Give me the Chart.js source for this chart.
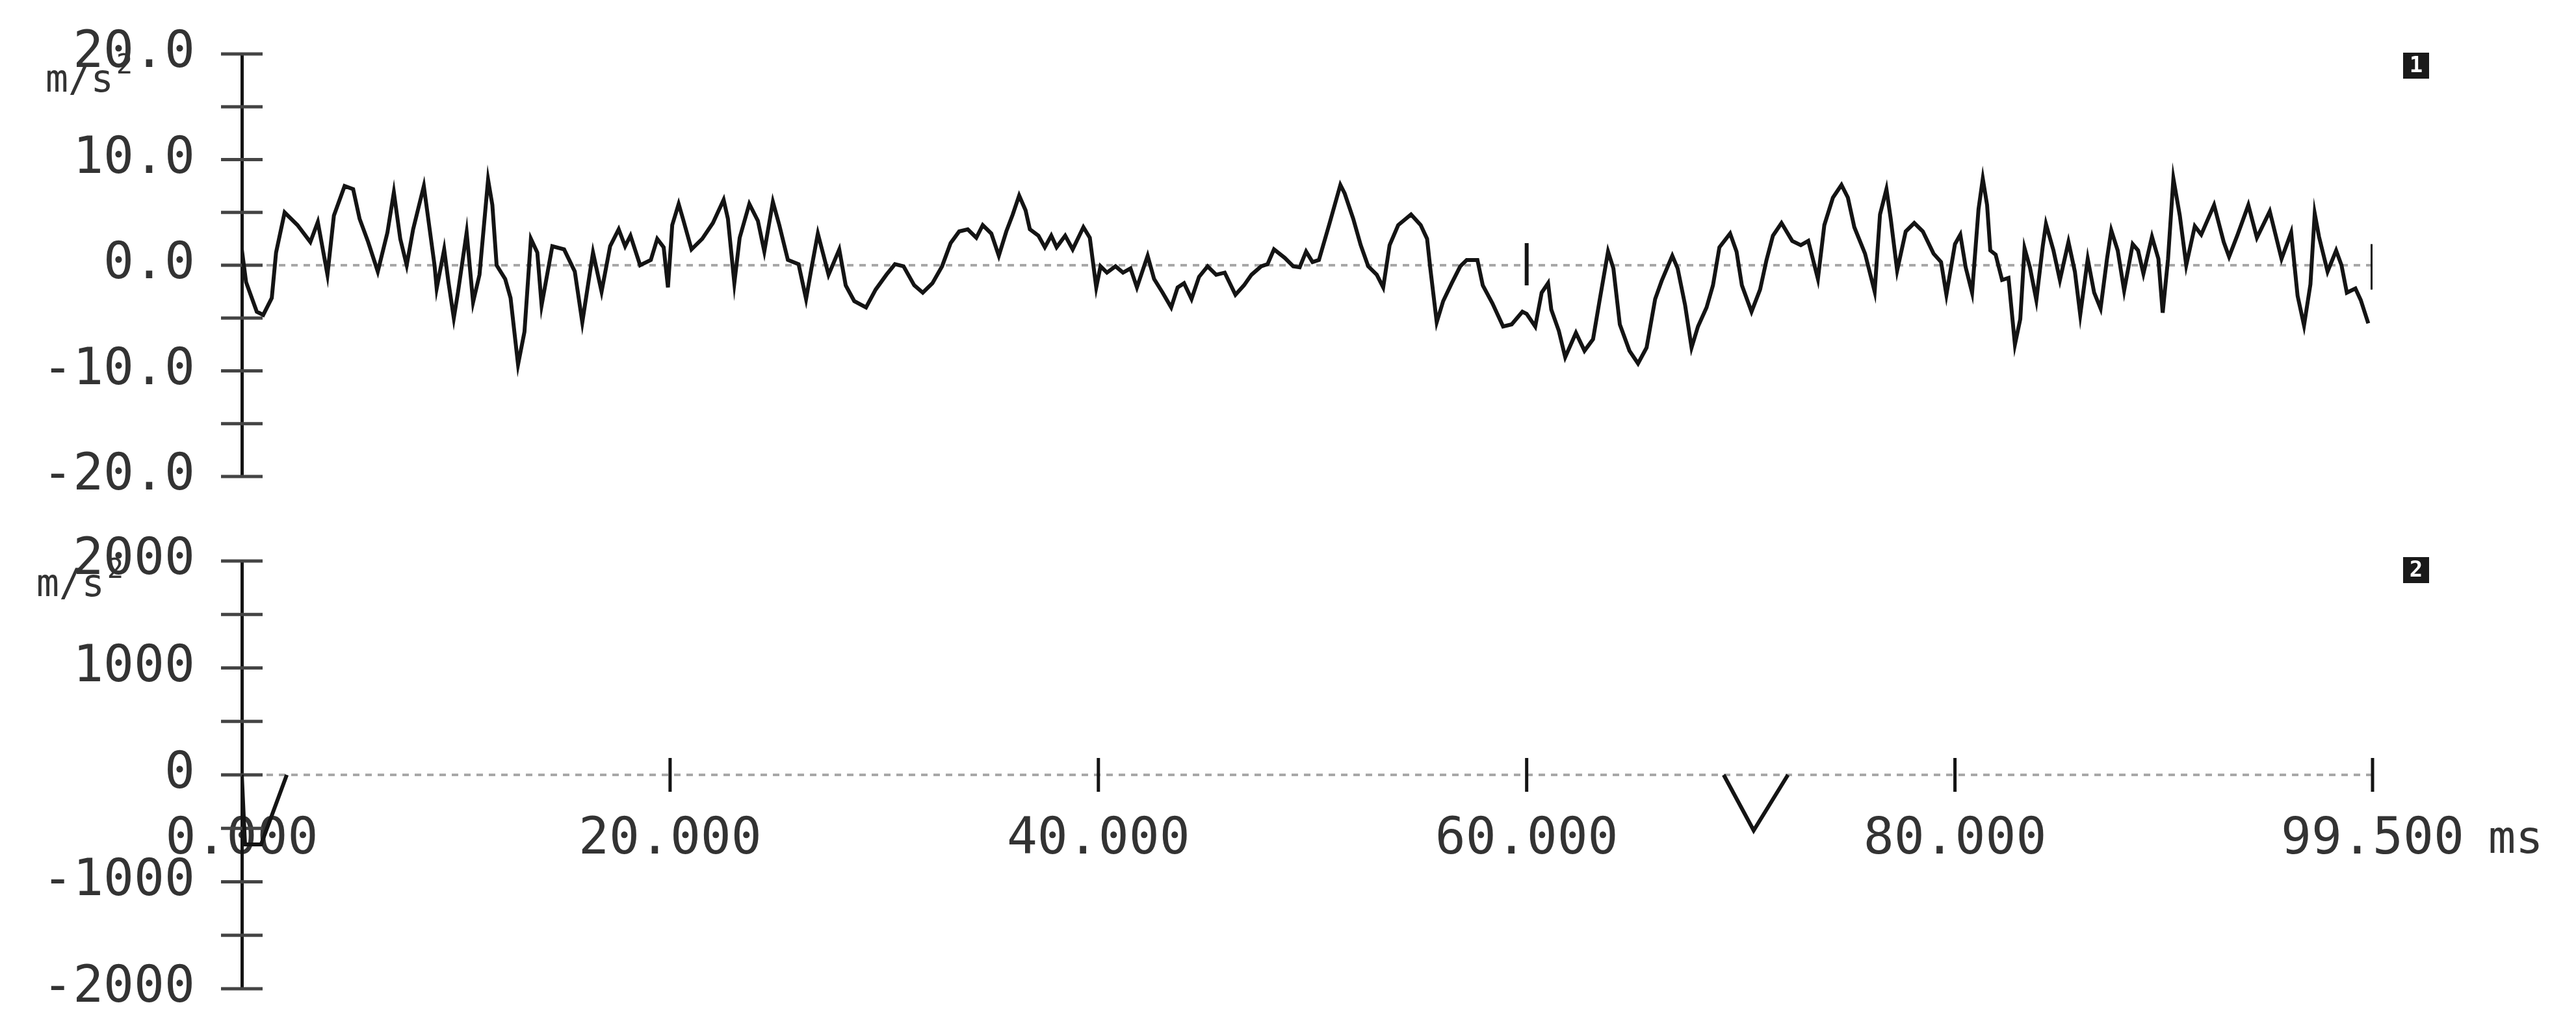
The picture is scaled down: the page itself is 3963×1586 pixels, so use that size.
<!DOCTYPE html>
<html lang="en">
<head>
<meta charset="UTF-8">
<title>Acceleration traces, channel 1 and 2</title>
<script src="https://cdn.jsdelivr.net/npm/chart.js"></script>
<style>
  body { margin: 0; background: #fff; }
  canvas { position: absolute; left: 0; }
</style>
</head>
<body>

<canvas id="ch1" style="top:0" width="3963" height="800"></canvas>
<canvas id="ch2" style="top:800px" width="3963" height="786"></canvas>

<script>
// channel 1 trace (ms, m/s^2)
const ch1Time = [0, 0.2, 0.7, 1.0, 1.4, 1.6, 2.0, 2.6, 3.2, 3.55, 4.0, 4.3, 4.8, 5.2, 5.5, 5.9, 6.35, 6.8, 7.1, 7.4, 7.7, 8.0, 8.5, 9.0, 9.1, 9.45, 9.65, 9.9, 10.1, 10.5, 10.8, 11.1, 11.5, 11.7, 11.9, 12.3, 12.55, 12.9, 13.2, 13.5, 13.8, 14.0, 14.5, 15.05, 15.55, 15.9, 16.4, 16.8, 17.2, 17.6, 17.9, 18.15, 18.6, 19.1,
  19.4, 19.7, 19.9, 20.1, 20.4, 20.6, 21.0, 21.5, 22.0, 22.5, 22.7, 23.0, 23.25, 23.7, 24.1, 24.4, 24.8, 25.1, 25.5, 26.0, 26.35, 26.6, 26.9, 27.4, 27.9, 28.2, 28.6, 29.15, 29.6, 30.1, 30.5, 30.9, 31.4, 31.8, 32.25, 32.7, 33.1, 33.5, 33.9, 34.3, 34.6, 35.0, 35.35, 35.7, 36.0, 36.3, 36.6, 36.8, 37.2, 37.5, 37.8, 38.05, 38.45, 38.8, 39.3, 39.6, 39.9,
  40.1, 40.4, 40.8, 41.15, 41.5, 41.8, 42.3, 42.6, 43.0, 43.4, 43.7, 44.0, 44.35, 44.7, 45.1, 45.5, 45.9, 46.4, 46.8, 47.15, 47.6, 47.9, 48.2, 48.7, 49.1,
  49.4, 49.7, 50.0, 50.3, 50.8, 51.3, 51.5, 51.9, 52.25, 52.6, 53.0, 53.3, 53.6, 54.0, 54.6, 55.05, 55.35, 55.5, 55.8, 56.1, 56.5, 56.9, 57.2, 57.7, 57.95, 58.4, 58.9, 59.3, 59.8, 60.0, 60.4, 60.7, 61.0, 61.15, 61.5, 61.8, 62.3, 62.7, 63.1, 63.4, 63.8, 64.05, 64.35, 64.8, 65.2, 65.6, 66.0, 66.3, 66.8, 67.05, 67.4, 67.7, 68.0, 68.4, 68.7, 69.0, 69.5, 69.8,
  70.05, 70.5, 70.9, 71.2, 71.5, 71.9, 72.4, 72.8, 73.15, 73.6, 73.9, 74.3, 74.7, 75.0, 75.3, 75.8, 76.25, 76.5, 76.8, 77.0, 77.3, 77.7, 78.1, 78.5, 79.0, 79.35, 79.6,
  80.0, 80.25, 80.5, 80.8, 81.1, 81.3, 81.5, 81.65, 81.9, 82.2, 82.5, 82.8, 83.05, 83.25, 83.5, 83.8, 84.1, 84.25, 84.6, 84.9, 85.3, 85.6, 85.85, 86.2, 86.5, 86.8, 87.1, 87.3, 87.6, 87.9, 88.3, 88.55, 88.8, 89.2, 89.5, 89.7, 89.95,
  90.2, 90.5, 90.8, 91.2, 91.5, 92.1, 92.55, 92.8, 93.2, 93.7, 94.1, 94.7, 95.25, 95.7, 96.0, 96.3, 96.6, 96.8, 97.0, 97.4, 97.8, 98.05, 98.3, 98.7, 98.95, 99.3];
const ch1Accel = [1.5, -1.6, -4.4, -4.7, -3.1, 1.2, 5.0, 3.8, 2.2, 4.1, -0.9, 4.7, 7.5, 7.2, 4.4, 2.2, -0.6, 3.1, 6.9, 2.5, 0, 3.4, 7.5, 0, -2.2, 1.5, -1.6, -5.0, -2.5, 3.1, -3.5, -0.9, 8.1, 5.7, 0, -1.3, -3.1, -9.4, -6.3, 2.5, 1.2, -3.8, 1.8, 1.5, -0.6, -5.4, 1.2, -2.5, 1.8, 3.4, 1.8, 2.8, 0, 0.5,
  2.5, 1.7, -2.1, 3.8, 5.8, 4.4, 1.5, 2.5, 4.0, 6.2, 4.4, -1.7, 2.6, 5.8, 4.2, 1.3, 6.0, 3.8, 0.5, 0.1, -3.2, -0.3, 3.0, -0.9, 1.5, -1.9, -3.4, -4.0, -2.3, -0.9, 0.1, -0.1, -1.9, -2.6, -1.7, -0.1, 2.1, 3.2, 3.4, 2.6, 3.8, 3.0, 0.9, 3.2, 4.8, 6.6, 5.2, 3.4, 2.8, 1.7, 2.8, 1.7, 2.8, 1.5, 3.6, 2.6, -2.1,
  -0.1, -0.7, -0.1, -0.7, -0.3, -2.1, 0.9, -1.3, -2.6, -4.0, -2.1, -1.7, -3.2, -1.1, -0.1, -0.9, -0.7, -2.8, -1.9, -0.9, -0.1, 0.1, 1.5, 0.7, -0.1,
  -0.2, 1.3, 0.3, 0.5, 4.0, 7.6, 6.8, 4.4, 1.9, -0.1, -0.9, -2.1, 1.9, 3.8, 4.8, 3.8, 2.5, -0.3, -5.4, -3.4, -1.7, -0.1, 0.5, 0.5, -1.9, -3.6, -5.8, -5.6, -4.4, -4.6, -5.8, -2.6, -1.7, -4.2, -6.2, -8.7, -6.4, -8.1, -7.0, -3.4, 1.3, -0.3, -5.6, -8.1, -9.3, -7.8, -3.2, -1.5, 0.9, -0.3, -3.8, -7.8, -5.8, -4.0, -1.9, 1.7, 3.0, 1.3,
  -1.9, -4.4, -2.3, 0.5, 2.8, 4.0, 2.3, 1.9, 2.3, -1.3, 3.8, 6.4, 7.6, 6.4, 3.6, 1.1, -2.5, 4.8, 7.2, 4.4, -0.5, 3.2, 4.0, 3.2, 1.1, 0.3, -2.8,
  2.0, 2.9, -0.2, -2.6, 5.3, 8.2, 5.7, 1.4, 1.0, -1.4, -1.2, -7.5, -5.1, 1.6, -0.2, -3.3, 1.8, 3.9, 1.4, -1.4, 2.2, -0.6, -4.7, 0.6, -2.6, -4.1, 0.6, 3.3, 1.4, -2.4, 2.0, 1.4, -0.8, 2.7, 0.6, -4.5, 0.6,
  8.2, 4.7, 0, 3.7, 2.9, 5.7, 2.2, 0.8, 2.9, 5.7, 2.6, 5.1, 0.6, 3.1, -2.9, -5.7, -1.8, 4.9, 2.7, -0.6, 1.4, 0, -2.6, -2.2, -3.3, -5.5];

// cursor marks on channel 1 (null splits the two bars)
const markTime = [60, 60, 80, 99.5, 99.5];
const markAccel = [2.1, -1.9, null, 2.0, -2.3];

// channel 2 trace
const ch2Time = [0, 0.15, 0.9, 2.1, 69.2, 70.6, 72.2, 99.5];
const ch2Accel = [0, -650, -650, 0, 0, -520, 0, 0];

// axes
const timeTicks = [0, 20, 40, 60, 80, 99.5];
const ch1Range = [-20, 20];
const ch2Range = [-2000, 2000];

const ink = '#141414';
const labelFont = { family: "'DejaVu Sans Mono', monospace", size: 78 };

function points(xs, ys) {
  return xs.map((x, i) => ({ x: x, y: ys[i] }));
}

// zero line, crossing tick marks, unit text and channel badge
const scopeDecor = {
  id: 'scopeDecor',
  beforeDatasetsDraw(chart, args, opts) {
    const { ctx, chartArea: a, scales: { x, y } } = chart;
    const y0 = y.getPixelForValue(0);
    ctx.save();
    ctx.strokeStyle = '#a8a8a8';
    ctx.lineWidth = 4;
    ctx.setLineDash([10, 9]);
    ctx.beginPath();
    ctx.moveTo(a.left, y0);
    ctx.lineTo(x.getPixelForValue(x.max), y0);
    ctx.stroke();
    ctx.setLineDash([]);

    ctx.strokeStyle = '#444';
    ctx.lineWidth = 5;
    y.ticks.forEach(t => {
      const py = y.getPixelForValue(t.value);
      ctx.beginPath();
      ctx.moveTo(a.left - 32, py);
      ctx.lineTo(a.left + 32, py);
      ctx.stroke();
    });

    if (opts.timeTicks) {
      ctx.strokeStyle = ink;
      x.ticks.forEach(t => {
        if (t.value === 0) return;
        const px = x.getPixelForValue(t.value);
        ctx.beginPath();
        ctx.moveTo(px, y0 - 26);
        ctx.lineTo(px, y0 + 26);
        ctx.stroke();
      });
    }
    ctx.restore();
  },
  afterDraw(chart, args, opts) {
    const ctx = chart.ctx;
    ctx.save();
    ctx.fillStyle = '#333';
    ctx.font = "58px 'DejaVu Sans Mono', monospace";
    ctx.textBaseline = 'middle';
    ctx.fillText('m/s', opts.unitX, opts.unitY);
    const w = ctx.measureText('m/s').width;
    ctx.font = "42px 'DejaVu Sans Mono', monospace";
    ctx.fillText('2', opts.unitX + w + 4, opts.unitY - 24);

    // channel number badge
    ctx.fillStyle = '#1a1a1a';
    ctx.fillRect(opts.badgeX - 20, opts.badgeY - 20, 40, 40);
    ctx.fillStyle = '#fff';
    ctx.font = "bold 34px 'DejaVu Sans Mono', monospace";
    ctx.textAlign = 'center';
    ctx.fillText(opts.badge, opts.badgeX, opts.badgeY + 1);

    if (opts.timeUnit) {
      ctx.fillStyle = '#333';
      ctx.font = "70px 'DejaVu Sans Mono', monospace";
      ctx.textAlign = 'left';
      ctx.fillText(opts.timeUnit, opts.timeUnitX, opts.timeUnitY);
    }
    ctx.restore();
  }
};

function yAxis(range, step, fmt) {
  return {
    min: range[0],
    max: range[1],
    afterFit: s => {
      s.width = 372;
      s.paddingTop = 0;
      s.paddingBottom = 0;
    },
    grid: { display: false, drawTicks: false },
    border: { color: ink, width: 5 },
    ticks: {
      stepSize: step,
      autoSkip: false,
      padding: 72,
      color: '#333',
      font: labelFont,
      callback: fmt
    }
  };
}

new Chart(document.getElementById('ch1'), {
  type: 'line',
  data: {
    datasets: [{
      data: points(ch1Time, ch1Accel),
      borderColor: ink,
      borderWidth: 6,
      pointRadius: 0,
      tension: 0
    }, {
      data: points(markTime, markAccel),
      borderColor: ink,
      borderWidth: 6,
      pointRadius: 0,
      spanGaps: false
    }]
  },
  options: {
    responsive: false,
    animation: false,
    layout: { padding: { left: 0, right: 313, top: 83, bottom: 67 } },
    scales: {
      x: { type: 'linear', min: 0, max: 99.5, display: false },
      y: yAxis(ch1Range, 5, v => v % 10 === 0 ? v.toFixed(1) : '')
    },
    plugins: {
      legend: { display: false },
      tooltip: { enabled: false },
      scopeDecor: { unitX: 70, unitY: 126, badge: '1', badgeX: 3717, badgeY: 101 }
    }
  },
  plugins: [scopeDecor]
});

new Chart(document.getElementById('ch2'), {
  type: 'line',
  data: {
    datasets: [{
      data: points(ch2Time, ch2Accel),
      borderColor: ink,
      borderWidth: 6,
      pointRadius: 0,
      tension: 0,
      // flat zero stretches sit on the dotted baseline
      segment: {
        borderColor: c => (c.p0.parsed.y === 0 && c.p1.parsed.y === 0) ? 'rgba(0,0,0,0)' : ink
      }
    }]
  },
  options: {
    responsive: false,
    animation: false,
    layout: { padding: { left: 0, right: 313, top: 63, bottom: 65 } },
    scales: {
      x: {
        type: 'linear',
        min: 0,
        max: 99.5,
        position: { y: 0 },
        z: 1,
        afterBuildTicks: s => { s.ticks = timeTicks.map(v => ({ value: v })); },
        grid: { display: false, drawTicks: false },
        border: { display: false },
        ticks: {
          autoSkip: false,
          maxRotation: 0,
          padding: 54,
          color: '#333',
          font: labelFont,
          showLabelBackdrop: true,
          backdropColor: '#fff',
          backdropPadding: 4,
          callback: v => v.toFixed(3)
        }
      },
      y: yAxis(ch2Range, 500, v => v % 1000 === 0 ? String(v) : '')
    },
    plugins: {
      legend: { display: false },
      tooltip: { enabled: false },
      scopeDecor: {
        unitX: 56, unitY: 102, badge: '2', badgeX: 3717, badgeY: 77,
        timeTicks: true, timeUnit: 'ms', timeUnitX: 3828, timeUnitY: 494
      }
    }
  },
  plugins: [scopeDecor]
});
</script>

</body>
</html>
